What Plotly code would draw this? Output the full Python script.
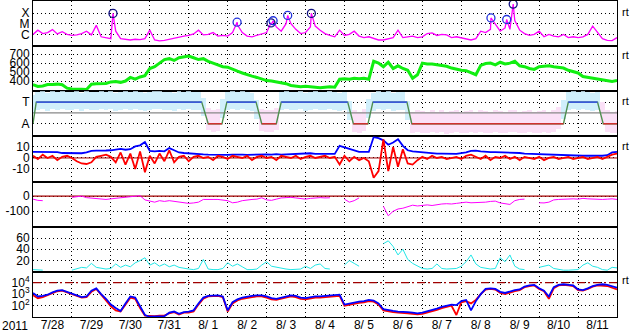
import plotly.graph_objects as go
from plotly.subplots import make_subplots
from datetime import datetime, timedelta

# ---------------- data (3-hour samples from 2011-07-28 00:00 UT) ----------------
T0 = datetime(2011, 7, 28)
STEP_H = 3
hours = [STEP_H * i for i in range(121)]

xray = [1.0e-6, 2.5e-6, 1.2e-6, 1.5e-6, 2.8e-6, 1.1e-6, 1.8e-6, 1.0e-6,
        8e-7, 9e-7, 1.2e-6, 2e-6, 9e-7, 7e-6, 6e-7, 5e-7,
        4e-7, 2e-6, 4e-7, 3.5e-7, 3e-7, 3.5e-7, 3.2e-7, 4e-7,
        2.5e-6, 3e-7, 2.5e-7, 2.8e-7, 3.5e-7, 5e-7, 6e-7, 7e-7,
        8e-7, 1.1e-6, 2.5e-6, 9e-7, 1e-6, 1.5e-6, 7e-7, 8e-7,
        7e-7, 1.5e-6, 8e-6, 1.5e-6, 7e-7, 6e-7, 8e-7, 1.2e-6,
        1.5e-6, 8e-6, 5e-6, 2e-6, 1e-5, 1e-5, 3e-6, 1.2e-6,
        1.5e-6, 5e-6, 6e-6, 2.5e-6, 1.2e-6, 8e-7, 6e-7, 2.5e-6,
        8e-7, 1e-6, 2e-6, 7e-7, 5e-7, 6e-7, 4e-7, 3e-7,
        3e-7, 4e-7, 5e-7, 2.5e-6, 5e-7, 6e-7, 7e-7, 5e-7,
        6e-7, 1.2e-6, 1.4e-6, 8e-7, 1e-6, 9e-7, 5e-7, 6e-7,
        5e-7, 4e-7, 3e-7, 4e-7, 2e-6, 1.5e-6, 3e-6, 8e-6,
        2e-6, 4e-6, 3e-6, 2e-5, 2.5e-6, 1.2e-6, 8e-7, 1e-6,
        2e-6, 6e-7, 1e-6, 7e-7, 6e-7, 1e-6, 5e-7, 6e-7,
        5e-7, 6e-7, 1e-6, 6e-6, 1.5e-6, 4e-7, 2.8e-7, 2.6e-7, 5e-7]

flare_h = [49.3, 125.8, 146.7, 148.0, 157.0, 171.6, 282.3, 292.0, 296.0]
flare_flux = [9.3e-5, 1.4e-5, 1.2e-5, 1.9e-5, 6.0e-5, 9.3e-5, 3.5e-5, 2.5e-5, 6.9e-4]
flare_color = ['#101080', '#2233dd', '#101080', '#2233dd', '#2233dd',
               '#101080', '#2233dd', '#2233dd', '#101080']

speed = [360, 340, 345, 360, 360, 365, 358, 320,
         310, 305, 308, 306, 365, 370, 375, 372,
         390, 395, 385, 400, 440, 420, 445, 460,
         540, 560, 600, 640, 650, 630, 660, 670,
         680, 660, 640, 650, 620, 600, 580, 560,
         555, 530, 510, 490, 470, 455, 440, 420,
         405, 400, 390, 375, 370, 350, 345, 335,
         340, 335, 330, 325, 330, 335, 330, 420,
         425, 420, 430, 425, 430, 420, 620, 600,
         560, 610, 540, 570, 540, 520, 430, 470,
         600, 590, 590, 580, 570, 565, 545, 530,
         520, 515, 490, 470, 575, 595, 600, 580,
         610, 590, 600, 620, 570, 560, 540, 530,
         560, 565, 570, 560, 555, 545, 520, 505,
         490, 450, 440, 430, 420, 410, 400, 395, 405]

imf_obs = [0.8,
           1.1, 1.2, 1.0, 1.15, 1.1, 1.2, 1.05, 1.1, 1.15, 1.0, 1.2, 1.1, 1.05, 1.15, 1.1, 1.2, 1.0,
           1.1, 1.15, 1.05, 1.2, 1.1, 1.0, 1.1, 1.15, 1.2, 1.05, 1.1, 1.0, 1.15, 1.1, 1.2, 1.05, 1.1,
           0.5, -0.6, -0.8, -0.7, 0.4,
           1.1, 1.15, 1.05, 1.2, 1.1, 1.0, 0.3,
           -0.7, -0.8, -0.75, -0.6,
           1.1, 1.2, 1.05, 1.1, 1.15, 1.0, 1.1, 1.2, 1.05, 1.1, 1.15, 1.1, 1.0, 1.1,
           0.2, -0.8, -0.9, -0.7, 0.4,
           1.0, 1.2, 1.1, 1.15, 1.0, 1.1, 1.05, 0.2,
           -0.9, -0.8, -0.85, -0.9, -0.75, -0.9, -0.8, -0.95, -0.85, -0.8, -0.9, -0.85, -0.75,
           -0.9, -0.8, -0.85, -0.9, -0.8, -0.85, -0.9, -0.75, -0.8, -0.9, -0.85, -0.8, -0.9,
           -0.85, -0.8, -0.9, -0.75, -0.5,
           0.3, 1.1, 1.2, 1.05, 1.15, 1.1, 1.0, 1.1,
           0.0, -0.8, -0.9, -0.85]

sector_h = [0, 2, 104, 108, 116.5, 119.5, 137.5, 141, 150, 153, 194, 197.5,
            206.5, 209.5, 230.5, 233.5, 327, 330, 348, 351.5, 360]
sector_v = [-1, 1, 1, -1, -1, 1, 1, -1, -1, 1, 1, -1, -1, 1, 1, -1, -1, 1, 1, -1, -1]

bt = [5.5, 5.5, 5.3, 5.4, 5.5, 5.3, 4.5, 4.3,
      4.2, 4.5, 4.3, 5.0, 6.5, 6.7, 6.5, 6.8,
      7.0, 7.8, 8.2, 7.5, 8.0, 10.5, 11.5, 14.5,
      6.5, 6.0, 6.5, 6.0, 9.0, 7.0, 5.0, 4.5,
      4.0, 3.5, 3.5, 3.2, 3.0, 2.8, 3.0, 2.5,
      2.8, 3.0, 3.2, 3.0, 2.8, 3.0, 3.2, 3.0,
      3.2, 3.0, 3.4, 3.0, 3.2, 3.5, 3.2, 3.5,
      3.8, 4.3, 3.8, 3.7, 3.6, 3.8, 3.7, 11.0,
      9.5, 8.0, 6.5, 5.5, 5.5, 5.5, 19.0, 18.0,
      16.0, 12.0, 14.0, 17.0, 11.0, 7.0, 6.0, 5.5,
      5.0, 4.5, 4.2, 4.0, 4.0, 3.8, 3.7, 3.8,
      4.5, 5.0, 6.5, 6.7, 6.0, 5.5, 5.4, 5.3,
      5.2, 5.0, 4.8, 5.0, 4.5, 4.0, 3.8, 3.5,
      3.6, 3.2, 3.0, 3.0, 2.8, 2.5, 2.2, 2.0,
      2.0, 2.0, 2.1, 2.0, 2.2, 2.0, 2.5, 5.0, 5.5]

bz = [2, -1, 3, 0, 2, -2, 1, 2,
      0, -3, -5, -5.5, -4, 1, 2, 3,
      1, -4, 5, -6, 4, -10, 6, -13,
      2, -5, 4, -3, 7, -4, 1, 2,
      -3, 1, 2, 0, 1, -2, 2, 1,
      -1, 2, 1, 0, 2, -2, 1, 2,
      0, 1, -2, 2, 1, 0, 2, -1,
      1, 2, 0, 1, 2, 0, 1, -6,
      2, -3, 1, -2, 0, -3, -18, -12,
      17, -12, 10, -8, 8, -5, -6, -2,
      1, -1, 2, 0, 1, -1, 0, 1,
      -1, 2, 3, 1, -1, 2, -2, 1,
      0, 2, -1, 1, -2, 1, 0, -1,
      1, -2, 0, 1, -1, 0, 1, -1,
      0, 1, -1, 0, 1, -1, 1, 3, 4]

dst = [-20, -28, -30, None, None, None, None, None,
       -8, -3, 0, -10, -12, -15, -20, -22,
       -18, -15, -12, -10, -8, 0, 3, -25,
       -35, -40, -30, -35, -30, -35, -38, -42,
       -48, -45, -40, -22, -20, -22, -22, -25,
       -30, -44, -40, -30, -25, -22, -20, -11,
       -25, -28, -20, -12, -10, -8, -12, -18,
       -20, -15, -12, -10, -12, -11, None, None,
       -20, -40, -30, -12, None, None, None, None,
       -67, -130, -100, -85, -80, -70, -60, -65,
       -60, -58, -62, -55, -52, -50, -52, -48,
       -44, -40, -44, -42, -45, -40, -35, -33,
       -45, -50, -55, -30, -22, -20, None, None,
       -44, -45, -40, -25, -22, -20, -22, -18,
       -20, -15, -18, -20, -18, -22, -20, -18, -22]

density = [4, 3, 3, None, None, None, None, None,
           3, 5, 8, 7, 15, 8, 6, 5,
           6, 14, 8, 12, 9, 16, 20, 25,
           12, 16, 10, 14, 9, 12, 8, 6,
           5, 4, 6, 22, 5, 4, 4, 6,
           16, 10, 14, 9, 4, 4, 5, 12,
           18, 10, 8, 6, 5, 4, 4, 5,
           10, 6, 12, 14, 6, 5, None, None,
           12, 20, 15, 10, None, None, None, None,
           50, 55, 45, 30, 40, 22, 15, 10,
           6, 5, 6, 14, 6, 5, 5, 6,
           10, 18, 30, 14, 8, 6, 5, 6,
           25, 18, 30, 10, 5, 4, None, None,
           8, 10, 12, 6, 4, 3, 3, 3,
           4, 12, 16, 10, 8, 4, 3, 8, 7]

e_blue_log = [3.1, 2.8, 2.85, 2.95, 3.15, 3.3, 3.35, 3.2,
              3.0, 2.85, 2.75, 2.8, 3.3, 3.5, 3.0, 2.6,
              2.1, 1.8, 1.55, 2.2, 2.8, 2.7, 2.0, 1.2,
              1.05, 1.05, 1.1, 1.1, 1.4, 1.5, 1.3, 1.45,
              1.5, 1.6, 2.2, 2.7, 2.85, 2.9, 2.9, 2.8,
              1.6, 2.3, 2.55, 2.7, 2.8, 2.85, 2.9, 2.9,
              2.8, 2.65, 2.6, 2.7, 2.85, 2.9, 2.85, 2.7,
              2.65, 2.75, 2.8, 2.8, 2.85, 2.85, 2.9, 2.95,
              2.1, 2.2, 2.3, 2.35, 2.4, 2.5, 2.45, 2.2,
              1.7, 1.6, 1.55, 1.5, 1.5, 1.45, 1.4, 1.35,
              1.4, 1.5, 1.65, 1.75, 1.9, 2.0, 2.1, 2.05,
              2.4, 2.5, 1.6, 2.4, 3.0, 3.45, 3.5, 3.45,
              3.2, 3.1, 3.25, 3.35, 3.4, 3.65, 3.75, 3.8,
              3.5, 3.3, 2.8, 3.6, 3.8, 3.85, 3.8, 3.75,
              3.4, 3.35, 3.5, 3.7, 3.8, 3.85, 3.8, 3.7, 3.55]

e_red_log = [2.9, 2.65, 2.75, 2.9, 3.1, 3.25, 3.3, 3.15,
             2.95, 2.8, 2.7, 2.75, 3.2, 3.45, 2.9, 2.45,
             1.95, 1.6, 1.5, 2.1, 2.7, 2.6, 1.8, 1.15,
             1.1, 1.1, 1.15, 1.15, 1.35, 1.45, 1.25, 1.4,
             1.4, 1.5, 2.1, 2.6, 2.8, 2.85, 2.85, 2.75,
             1.5, 2.2, 2.45, 2.6, 2.7, 2.75, 2.8, 2.8,
             2.7, 2.55, 2.5, 2.6, 2.75, 2.8, 2.75, 2.6,
             2.55, 2.65, 2.7, 2.7, 2.75, 2.75, 2.8, 2.85,
             2.0, 2.1, 2.2, 2.25, 2.3, 2.4, 2.35, 2.1,
             1.6, 1.5, 1.45, 1.4, 1.4, 1.35, 1.3, 1.25,
             1.3, 1.4, 1.55, 1.65, 1.8, 1.9, 2.0, 1.2,
             2.3, 2.4, 2.2, 2.5, 3.0, 3.4, 3.45, 3.4,
             3.1, 3.0, 3.15, 3.25, 3.35, 3.6, 3.7, 3.75,
             3.45, 3.25, 2.6, 3.5, 3.75, 3.8, 3.75, 3.7,
             3.35, 3.3, 3.45, 3.65, 3.75, 3.75, 3.7, 3.55, 3.4]

day_labels_fmt = '%-m/%e'

# ---------------- figure ----------------
def t(h):
    return T0 + timedelta(hours=h)

times = [t(h) for h in hours]
t_end = t(360)
FONT = 'Liberation Sans, Arial, sans-serif'
DARKRED = '#a00000'

fig = make_subplots(rows=7, cols=1, shared_xaxes=True, vertical_spacing=0)

# Panel 1: X-ray
pairs = sorted(zip(hours + flare_h, xray + flare_flux))
fig.add_trace(go.Scatter(x=[t(p[0]) for p in pairs], y=[p[1] for p in pairs], mode='lines',
                         line=dict(color='#ff00ff', width=1.3)), row=1, col=1)
fig.add_trace(go.Scatter(x=[t(h) for h in flare_h], y=flare_flux, mode='markers',
                         marker=dict(symbol='circle-open', size=8, color=flare_color,
                                     line=dict(width=1.3, color=flare_color))), row=1, col=1)

# Panel 2: speed
fig.add_trace(go.Scatter(x=times, y=speed, mode='lines', line=dict(color='#11ee11', width=3)), row=2, col=1)

# Panel 3: sector
bar_col = ['#d0effb' if v > 0 else '#fbe0f7' for v in imf_obs]
bar_half = [0.85 if v > 0 else 1.0 for v in imf_obs]
fig.add_trace(go.Bar(x=times, y=[2 * h for h in bar_half], base=[v - h for v, h in zip(imf_obs, bar_half)],
                     width=STEP_H * 3600 * 1000, marker=dict(color=bar_col, line=dict(width=0))), row=3, col=1)
fig.add_trace(go.Scatter(x=[T0, t_end], y=[0, 0], mode='lines', line=dict(color='#888888', width=1.2)), row=3, col=1)
fig.add_trace(go.Scatter(x=[t(h) for h in sector_h], y=sector_v, mode='lines',
                         line=dict(color='#4f8f4f', width=1.4)), row=3, col=1)
bx, by, rx, ry = [], [], [], []
for i in range(len(sector_h) - 1):
    if sector_v[i] == sector_v[i + 1]:
        seg_x = [t(sector_h[i]), t(sector_h[i + 1]), None]
        seg_y = [sector_v[i], sector_v[i + 1], None]
        if sector_v[i] > 0:
            bx += seg_x; by += seg_y
        else:
            rx += seg_x; ry += seg_y
fig.add_trace(go.Scatter(x=bx, y=by, mode='lines', line=dict(color='#3a5ad8', width=1.6)), row=3, col=1)
fig.add_trace(go.Scatter(x=rx, y=ry, mode='lines', line=dict(color='#d03030', width=1.6)), row=3, col=1)

# Panel 4: IMF
fig.add_trace(go.Scatter(x=[T0, t_end], y=[0, 0], mode='lines', line=dict(color=DARKRED, width=1)), row=4, col=1)
fig.add_trace(go.Scatter(x=times, y=bt, mode='lines', line=dict(color='#0000ff', width=1.8)), row=4, col=1)
fig.add_trace(go.Scatter(x=times, y=bz, mode='lines', line=dict(color='#ff0000', width=1.8)), row=4, col=1)

# Panel 5: Dst
fig.add_trace(go.Scatter(x=[T0, t_end], y=[0, 0], mode='lines', line=dict(color=DARKRED, width=1.2)), row=5, col=1)
fig.add_trace(go.Scatter(x=times, y=dst, mode='lines', line=dict(color='#ff00ff', width=1)), row=5, col=1)

# Panel 6: density
fig.add_trace(go.Scatter(x=times, y=density, mode='lines', line=dict(color='#22e6e6', width=1)), row=6, col=1)

# Panel 7: electrons
fig.add_trace(go.Scatter(x=[T0, t_end], y=[1e4, 1e4], mode='lines',
                         line=dict(color=DARKRED, width=1.2, dash='8px,3px,2px,3px')), row=7, col=1)
fig.add_trace(go.Scatter(x=times, y=[10 ** v for v in e_red_log], mode='lines',
                         line=dict(color='#ff0000', width=1.8)), row=7, col=1)
fig.add_trace(go.Scatter(x=times, y=[10 ** v for v in e_blue_log], mode='lines',
                         line=dict(color='#0000ff', width=1.8)), row=7, col=1)

grid = dict(showgrid=True, gridcolor='black', gridwidth=1, griddash='1px,3px',
            showline=True, mirror=True, linecolor='black', linewidth=1,
            ticks='', zeroline=False, automargin=False,
            tickfont=dict(family=FONT, size=12, color='black'))

for r in range(1, 8):
    fig.update_xaxes(row=r, col=1, type='date', range=[T0, t_end], tick0=T0, dtick=86400000,
                     showticklabels=(r == 7), **grid)
fig.update_xaxes(row=7, col=1, tickformat=day_labels_fmt, ticklabelmode='period', ticklabelstandoff=-3)

fig.update_yaxes(row=1, col=1, type='log', range=[-7.1, -2.87], tickvals=[1e-4, 1e-5, 1e-6],
                 ticktext=['X', 'M', 'C'], **grid)
fig.update_yaxes(row=2, col=1, range=[285, 790], tickvals=[400, 500, 600, 700], **grid)
fig.update_yaxes(row=3, col=1, range=[-2.17, 2.0], tickvals=[1, -1], ticktext=['T', 'A'], **grid)
fig.update_yaxes(row=4, col=1, range=[-21.5, 19.6], tickvals=[10, 0, -10], ticktext=['10', '0', '-10'], **grid)
fig.update_yaxes(row=5, col=1, range=[-202, 96], tickvals=[0, -100], ticktext=['0', '-100'], **grid)
fig.update_yaxes(row=6, col=1, range=[0, 80], tickvals=[20, 40, 60], **grid)
fig.update_yaxes(row=7, col=1, type='log', range=[1.03, 4.92], tickvals=[1e2, 1e3, 1e4],
                 ticktext=['10<sup>2</sup>', '10<sup>3</sup>', '10<sup>4</sup>'], **grid)

ann = [dict(text='2011', xref='paper', yref='paper', x=-0.031, y=-0.03, xanchor='center',
            yanchor='middle', showarrow=False, font=dict(family=FONT, size=12, color='black'))]
for yp in [0.965, 0.829, 0.682, 0.542, 0.118]:
    ann.append(dict(text='rt', xref='paper', yref='paper', x=1, xshift=3, y=yp, xanchor='left',
                    yanchor='middle', showarrow=False, font=dict(family=FONT, size=11, color='black')))

fig.update_layout(width=633, height=334, margin=dict(l=33, r=16, t=1, b=17),
                  template='none', paper_bgcolor='white', plot_bgcolor='white',
                  showlegend=False, bargap=0, annotations=ann,
                  font=dict(family=FONT, size=12, color='black'))

fig.write_html('out.html')
